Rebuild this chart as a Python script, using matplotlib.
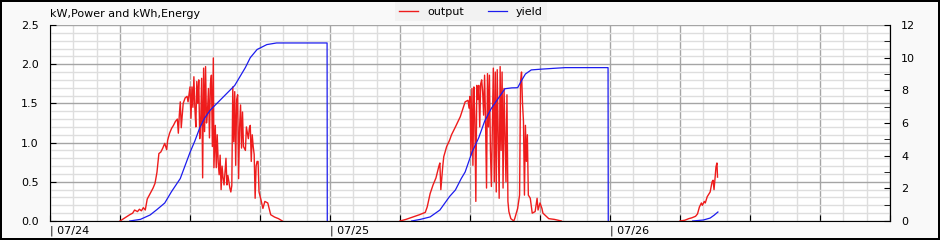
import matplotlib
matplotlib.use("Agg")
import matplotlib.pyplot as plt
import matplotlib.dates as mdates
from matplotlib.ticker import MultipleLocator
import pandas as pd

year = "2024"
days = ["07/24", "07/25", "07/26"]

# output (kW) per day
out_times_1 = ["06:00", "06:25", "06:50", "07:05", "07:15", "07:30", "07:40", "07:50", "08:00", "08:10",
               "08:20", "08:35", "08:50", "09:00", "09:10", "09:15", "09:20", "09:30", "09:40", "09:50",
               "10:00", "10:05", "10:15", "10:25", "10:35", "10:45", "10:55", "11:00", "11:05", "11:10",
               "11:15", "11:25", "11:35", "11:45", "11:50", "12:00", "12:05", "12:10", "12:15", "12:20",
               "12:25", "12:30", "12:35", "12:40", "12:45", "12:50", "12:55", "13:00", "13:05", "13:10",
               "13:15", "13:20", "13:25", "13:30", "13:35", "13:40", "13:45", "13:50", "13:55", "14:00",
               "14:03", "14:10", "14:15", "14:20", "14:25", "14:30", "14:35", "14:40", "14:45", "14:50",
               "14:55", "15:00", "15:05", "15:10", "15:15", "15:20", "15:25", "15:30", "15:35", "15:40",
               "15:45", "15:50", "15:55", "16:00", "16:05", "16:10", "16:15", "16:20", "16:25", "16:30",
               "16:35", "16:45", "16:50", "17:00", "17:05", "17:10", "17:15", "17:20", "17:25", "17:30",
               "17:35", "17:40", "17:45", "17:50", "17:55", "18:05", "18:15", "18:25", "18:40", "18:55",
               "19:15", "19:35", "19:55"]
out_kw_1 = [0.00, 0.04, 0.08, 0.10, 0.14, 0.12, 0.15, 0.13, 0.17, 0.14,
            0.28, 0.35, 0.42, 0.48, 0.62, 0.74, 0.86, 0.88, 0.93, 0.99,
            0.91, 1.03, 1.12, 1.18, 1.22, 1.27, 1.30, 1.12, 1.35, 1.52,
            1.19, 1.50, 1.57, 1.59, 1.52, 1.71, 1.31, 1.71, 1.45, 1.84,
            1.44, 1.20, 1.78, 1.50, 1.80, 1.05, 1.27, 1.82, 0.55, 1.95,
            1.14, 1.97, 1.25, 1.40, 1.69, 1.06, 1.75, 1.86, 0.95, 2.08,
            0.68, 1.22, 0.68, 1.10, 0.75, 0.59, 0.84, 0.40, 0.70, 0.55,
            0.46, 0.62, 0.80, 0.46, 0.58, 0.50, 0.42, 0.37, 0.45, 1.71,
            1.01, 1.65, 0.71, 1.55, 1.61, 0.54, 1.20, 1.48, 0.93, 1.39,
            0.95, 0.90, 1.20, 1.05, 1.18, 1.22, 0.76, 1.10, 0.95, 0.85,
            0.29, 0.70, 0.76, 0.76, 0.37, 0.27, 0.16, 0.25, 0.23, 0.08,
            0.05, 0.03, 0.00]

out_times_2 = ["06:00", "06:30", "07:05", "07:40", "08:10", "08:20", "08:35", "08:50", "09:05", "09:20",
               "09:25", "09:30", "09:40", "09:45", "10:00", "10:15", "10:25", "10:45", "11:10", "11:35",
               "11:50", "11:55", "12:00", "12:05", "12:10", "12:15", "12:20", "12:25", "12:30", "12:35",
               "12:40", "12:45", "12:50", "12:55", "13:00", "13:05", "13:10", "13:15", "13:20", "13:25",
               "13:30", "13:35", "13:40", "13:45", "13:50", "13:55", "14:00", "14:05", "14:10", "14:15",
               "14:20", "14:25", "14:30", "14:35", "14:40", "14:45", "14:50", "14:55", "15:00", "15:05",
               "15:10", "15:15", "15:20", "15:30", "15:45", "15:50", "16:05", "16:15", "16:20", "16:25",
               "16:30", "16:35", "16:40", "16:45", "16:50", "16:55", "17:00", "17:10", "17:20", "17:35",
               "17:45", "17:50", "18:00", "18:10", "18:15", "18:45", "19:15", "19:50"]
out_kw_2 = [0.00, 0.02, 0.05, 0.08, 0.11, 0.18, 0.35, 0.46, 0.55, 0.70,
            0.74, 0.40, 0.70, 0.82, 0.95, 1.03, 1.10, 1.20, 1.33, 1.52,
            1.54, 1.44, 1.59, 0.84, 1.69, 0.71, 1.71, 1.30, 0.25, 1.73,
            1.55, 1.73, 1.20, 1.75, 1.80, 1.65, 1.35, 1.86, 1.27, 0.42,
            1.88, 1.20, 1.86, 0.90, 0.44, 1.20, 1.95, 0.50, 1.90, 0.37,
            1.93, 1.10, 0.29, 1.97, 0.90, 1.90, 0.42, 1.69, 1.10, 0.50,
            1.61, 0.25, 0.12, 0.03, 0.00, 0.03, 0.16, 0.33, 1.78, 1.90,
            1.50, 1.27, 0.33, 1.22, 0.76, 1.10, 0.33, 0.29, 0.10, 0.12,
            0.29, 0.14, 0.23, 0.16, 0.10, 0.03, 0.02, 0.00]

out_times_3 = ["06:00", "06:25", "06:45", "07:00", "07:10", "07:20", "07:30", "07:40", "07:50", "07:55",
               "08:05", "08:10", "08:20", "08:35", "08:45", "08:50", "08:55", "09:00", "09:05", "09:10",
               "09:13"]
out_kw_3 = [0.00, 0.01, 0.03, 0.04, 0.05, 0.06, 0.09, 0.18, 0.23, 0.20,
            0.25, 0.23, 0.31, 0.37, 0.50, 0.52, 0.40, 0.54, 0.69, 0.74,
            0.56]

# yield (kWh) per day
yield_times_1 = ["06:50", "07:45", "08:35", "09:10", "09:50", "10:25", "11:10", "11:35", "12:00", "12:25",
                 "12:50", "13:15", "13:45", "14:35", "15:25", "15:50", "16:15", "16:45", "17:10", "17:45",
                 "18:35", "19:25", "23:45", "23:46"]
yield_kwh_1 = [0.0, 0.1, 0.37, 0.7, 1.1, 1.8, 2.6, 3.4, 4.2, 4.9,
               5.7, 6.3, 6.8, 7.4, 8.0, 8.3, 8.8, 9.4, 10.0, 10.5,
               10.8, 10.9, 10.9, 0.0]

yield_times_2 = ["07:00", "07:45", "08:35", "09:25", "10:15", "10:45", "11:15", "11:35", "12:10", "12:45",
                 "13:15", "13:50", "14:25", "15:00", "15:35", "16:05", "16:25", "16:45", "17:15", "18:10",
                 "19:15", "20:10", "23:50", "23:51"]
yield_kwh_2 = [0.0, 0.1, 0.25, 0.67, 1.5, 1.9, 2.6, 3.0, 4.2, 5.1,
               6.1, 6.9, 7.5, 8.1, 8.15, 8.16, 8.6, 9.0, 9.25, 9.3,
               9.35, 9.39, 9.39, 0.0]

yield_times_3 = ["07:05", "08:00", "08:35", "08:55", "09:15"]
yield_kwh_3 = [0.0, 0.06, 0.18, 0.35, 0.55]


def stamps(day, times):
    return pd.to_datetime([f"{year}/{day} {t}" for t in times])


out_series = [(out_times_1, out_kw_1), (out_times_2, out_kw_2), (out_times_3, out_kw_3)]
yield_series = [(yield_times_1, yield_kwh_1), (yield_times_2, yield_kwh_2), (yield_times_3, yield_kwh_3)]

fig = plt.figure(figsize=(9.4, 2.4), dpi=100, facecolor="#f9f9f9", edgecolor="black", linewidth=1.5)
ax = fig.add_axes([50 / 940, 19 / 240, 840 / 940, 196 / 240])
ax.set_facecolor("white")
ax2 = ax.twinx()

# each day drawn on its own so nothing runs along the axis at night
for day, (t, v) in zip(days, out_series):
    l1, = ax.plot(stamps(day, t), v, color="#ee1c1c", lw=1.0)
for day, (t, v) in zip(days, yield_series):
    l2, = ax2.plot(stamps(day, t), v, color="#1c1cee", lw=0.9)

start = pd.Timestamp(f"{year}/{days[0]} 00:00")
end = start + pd.Timedelta(days=3)
ax.set_xlim(start, end)
ax.set_ylim(0, 2.5)
ax2.set_ylim(0, 12)

major = pd.date_range(start, end, freq="6h")
ax.set_xticks(major)
ax.set_xticklabels(["| " + d.strftime("%m/%d") if d.hour == 0 and d < end else "" for d in major],
                   ha="left", fontsize=8)
ax.xaxis.set_minor_locator(mdates.HourLocator(interval=2))
ax.yaxis.set_major_locator(MultipleLocator(0.5))
ax.yaxis.set_minor_locator(MultipleLocator(0.1))
ax.yaxis.set_major_formatter(plt.FormatStrFormatter("%.1f"))

ax.grid(which="minor", color="#dedede", lw=1)
ax.grid(which="major", color="#a5a5a5", lw=1)
ax.set_axisbelow(True)

ax.tick_params(which="major", direction="in", length=4, labelsize=8, pad=5)
ax.tick_params(axis="y", which="major", pad=8)
ax.tick_params(which="minor", length=0)
ax.tick_params(axis="x", pad=3)

ax2.yaxis.set_major_locator(MultipleLocator(2))
ax2.yaxis.set_minor_locator(MultipleLocator(1))
ax2.tick_params(which="both", direction="in", length=4, labelsize=8, pad=8)

for a in (ax, ax2):
    a.spines["top"].set_visible(False)
ax2.spines["left"].set_visible(False)
ax2.spines["bottom"].set_visible(False)

fig.text(50 / 940, 1 - 14 / 240, "kW,Power and kWh,Energy", fontsize=8, va="center", ha="left")

fig.legend([l1, l2], ["output", "yield"], loc="upper center", bbox_to_anchor=(471 / 940, 1.0),
           ncol=2, fontsize=8, frameon=True, fancybox=False, facecolor="#f2f2f2",
           edgecolor="none", framealpha=1, handlelength=1.7, columnspacing=2.2,
           borderaxespad=0.2)

fig.savefig("out.png", dpi=100)
